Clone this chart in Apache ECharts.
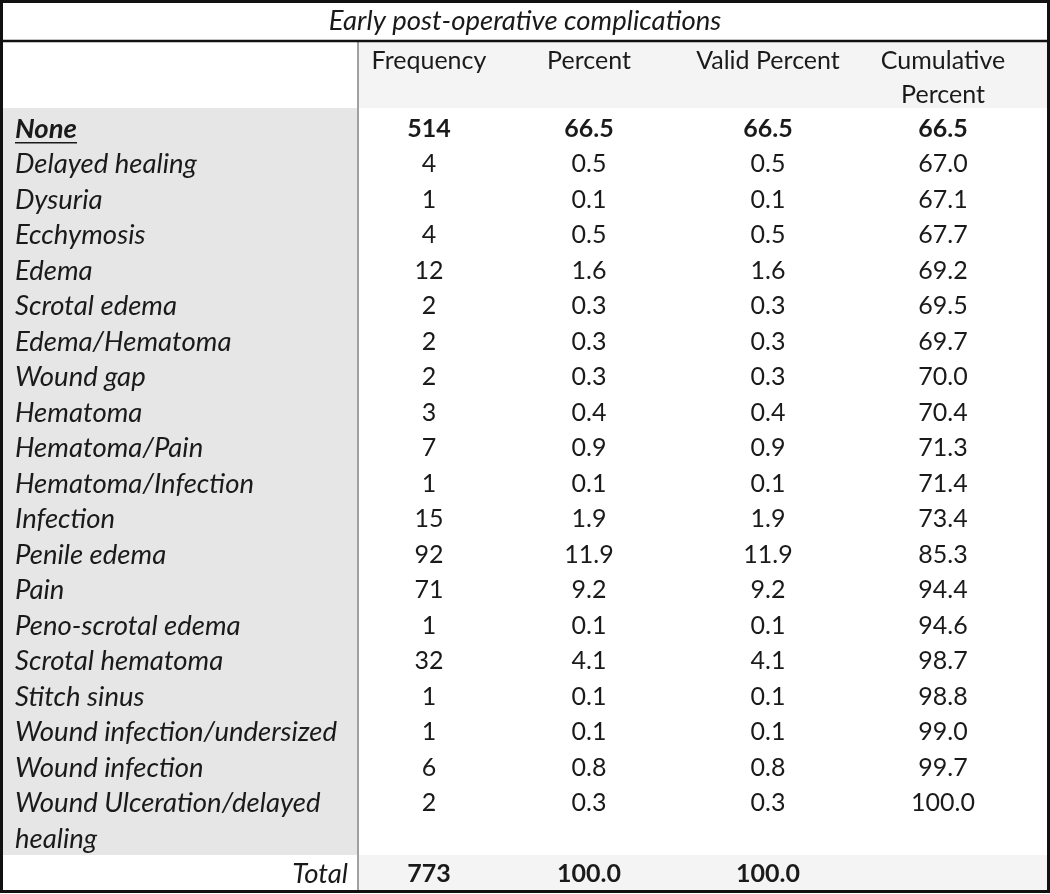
<!DOCTYPE html>
<html><head><meta charset="utf-8">
<script src="https://cdn.jsdelivr.net/npm/echarts@6/dist/echarts.min.js"></script>
<style>html,body{margin:0;padding:0;background:#fff}#c{width:1050px;height:894px}</style>
</head><body><div id="c"></div>
<script>
const title = 'Early post-operative complications';
const columns = ['Frequency', 'Percent', 'Valid Percent', 'Cumulative\nPercent'];
const complications = ['None','Delayed healing','Dysuria','Ecchymosis','Edema','Scrotal edema','Edema/Hematoma','Wound gap','Hematoma','Hematoma/Pain','Hematoma/Infection','Infection','Penile edema','Pain','Peno-scrotal edema','Scrotal hematoma','Stitch sinus','Wound infection/undersized','Wound infection','Wound Ulceration/delayed\nhealing'];
const frequency = [514,4,1,4,12,2,2,2,3,7,1,15,92,71,1,32,1,1,6,2];
const percent = [66.5,0.5,0.1,0.5,1.6,0.3,0.3,0.3,0.4,0.9,0.1,1.9,11.9,9.2,0.1,4.1,0.1,0.1,0.8,0.3];
const validPercent = [66.5,0.5,0.1,0.5,1.6,0.3,0.3,0.3,0.4,0.9,0.1,1.9,11.9,9.2,0.1,4.1,0.1,0.1,0.8,0.3];
const cumulativePercent = [66.5,67.0,67.1,67.7,69.2,69.5,69.7,70.0,70.4,71.3,71.4,73.4,85.3,94.4,94.6,98.7,98.8,99.0,99.7,100.0];
const totalLabel = 'Total';
const totals = [773, 100.0, 100.0, null];

// layout (styles only)
const W = 1050, H = 894;
const FONT = 'Lato';
const FS = 25;       // upright text
const FSI = 27.5;    // italic text
const divX = 358;
const labelX = 15;
const colCenters = [429, 589, 768, 943];
const gridTop = 108, gridBottom = 5;
const textDy = 3;
const INK = '#1a1a1a';

const measureCtx = document.createElement('canvas').getContext('2d');
function textWidth(t, font) { measureCtx.font = font; return measureCtx.measureText(t).width; }

// build rows: [rowStart, span, kind, index]
const rows = [];
let pos = 0;
complications.forEach((c, i) => {
  const span = c.split('\n').length;
  rows.push({ value: [pos, span, 0, i] });
  pos += span;
});
rows.push({ value: [pos, 1, 1, -1] });
pos += 1;
const totalSlots = pos;

function fmtPct(v) { return v == null ? '' : v.toFixed(1); }

function renderItem(params, api) {
  const start = api.value(0), span = api.value(1), kind = api.value(2), idx = api.value(3);
  const p0 = api.coord([0, start]);
  const p1 = api.coord([W, start + span]);
  const pFirst = api.coord([0, start + 1]);
  const top = p0[1], bottom = p1[1], firstMid = (p0[1] + pFirst[1]) / 2 + textDy;
  const slotH = pFirst[1] - p0[1];
  const xs = colCenters.map(c => api.coord([c, start])[0]);
  const xDiv = api.coord([divX, start])[0];
  const xL = api.coord([labelX, start])[0];
  const xRight = api.coord([W, start])[0];
  const children = [];
  if (kind === 0) {
    const bold = idx === 0;
    children.push({ type: 'rect', shape: { x: 0, y: Math.floor(top), width: xDiv, height: Math.ceil(bottom - top) + 2 }, style: { fill: '#e6e6e6' }, silent: true, z2: 0 });
    const lines = complications[idx].split('\n');
    lines.forEach((ln, k) => {
      children.push({ type: 'text', z2: 5, style: { x: xL, y: firstMid + k * slotH, text: ln, fontFamily: FONT, fontSize: FSI, fontStyle: 'italic', fontWeight: bold ? 'bold' : 'normal', fill: INK, align: 'left', verticalAlign: 'middle' } });
    });
    if (bold) {
      const w = textWidth(lines[0], 'italic bold ' + FSI + 'px ' + FONT);
      children.push({ type: 'line', z2: 5, shape: { x1: xL, y1: firstMid + 14, x2: xL + w, y2: firstMid + 14 }, style: { stroke: INK, lineWidth: 1.6 } });
    }
    const vals = [String(frequency[idx]), fmtPct(percent[idx]), fmtPct(validPercent[idx]), fmtPct(cumulativePercent[idx])];
    vals.forEach((v, k) => {
      children.push({ type: 'text', z2: 5, style: { x: xs[k], y: firstMid, text: v, fontFamily: FONT, fontSize: FS, fontWeight: bold ? 'bold' : 'normal', fill: INK, align: 'center', verticalAlign: 'middle' } });
    });
  } else {
    children.push({ type: 'rect', shape: { x: xDiv, y: Math.floor(top) + 2, width: xRight - xDiv, height: bottom - top }, style: { fill: '#f4f4f4' }, silent: true, z2: 0 });
    children.push({ type: 'text', z2: 5, style: { x: xDiv - 10, y: firstMid, text: totalLabel, fontFamily: FONT, fontSize: FSI, fontStyle: 'italic', fill: INK, align: 'right', verticalAlign: 'middle' } });
    const vals = [String(totals[0]), fmtPct(totals[1]), fmtPct(totals[2]), fmtPct(totals[3])];
    vals.forEach((v, k) => {
      children.push({ type: 'text', z2: 5, style: { x: xs[k], y: firstMid, text: v, fontFamily: FONT, fontSize: FS, fontWeight: 'bold', fill: INK, align: 'center', verticalAlign: 'middle' } });
    });
  }
  return { type: 'group', children };
}

const chart = echarts.init(document.getElementById('c'), null, { renderer: 'canvas' });

const headerGraphics = [
  { type: 'rect', shape: { x: divX, y: 41, width: W - divX, height: gridTop - 41 }, style: { fill: '#f4f4f4' }, z: 0 },
  { type: 'text', style: { x: W / 2, y: 21, text: title, fontFamily: FONT, fontSize: FSI, fontStyle: 'italic', fill: INK, align: 'center', verticalAlign: 'middle' }, z: 10 },
];
columns.forEach((c, k) => {
  headerGraphics.push({ type: 'text', style: { x: colCenters[k], y: 44, text: c, fontFamily: FONT, fontSize: FS, lineHeight: 34, fill: INK, align: 'center', verticalAlign: 'top' }, z: 10 });
});
headerGraphics.push(
  { type: 'line', shape: { x1: divX, y1: 41, x2: divX, y2: H - 4 }, style: { stroke: '#a0a0a0', lineWidth: 2 }, z: 20 },
  { type: 'line', shape: { x1: 0, y1: 41, x2: W, y2: 41 }, style: { stroke: '#111', lineWidth: 2.5 }, z: 20 },
  { type: 'rect', shape: { x: 1.5, y: 1.5, width: W - 3, height: H - 4 }, style: { fill: 'none', stroke: '#111', lineWidth: 3 }, z: 30 }
);

chart.setOption({
  animation: false,
  grid: { left: 0, right: 0, top: gridTop, bottom: gridBottom },
  xAxis: { type: 'value', min: 0, max: W, show: false },
  yAxis: { type: 'value', min: 0, max: totalSlots, inverse: true, show: false },
  graphic: headerGraphics,
  series: [{ type: 'custom', renderItem, data: rows, z: 5, clip: false }]
});
</script></body></html>
